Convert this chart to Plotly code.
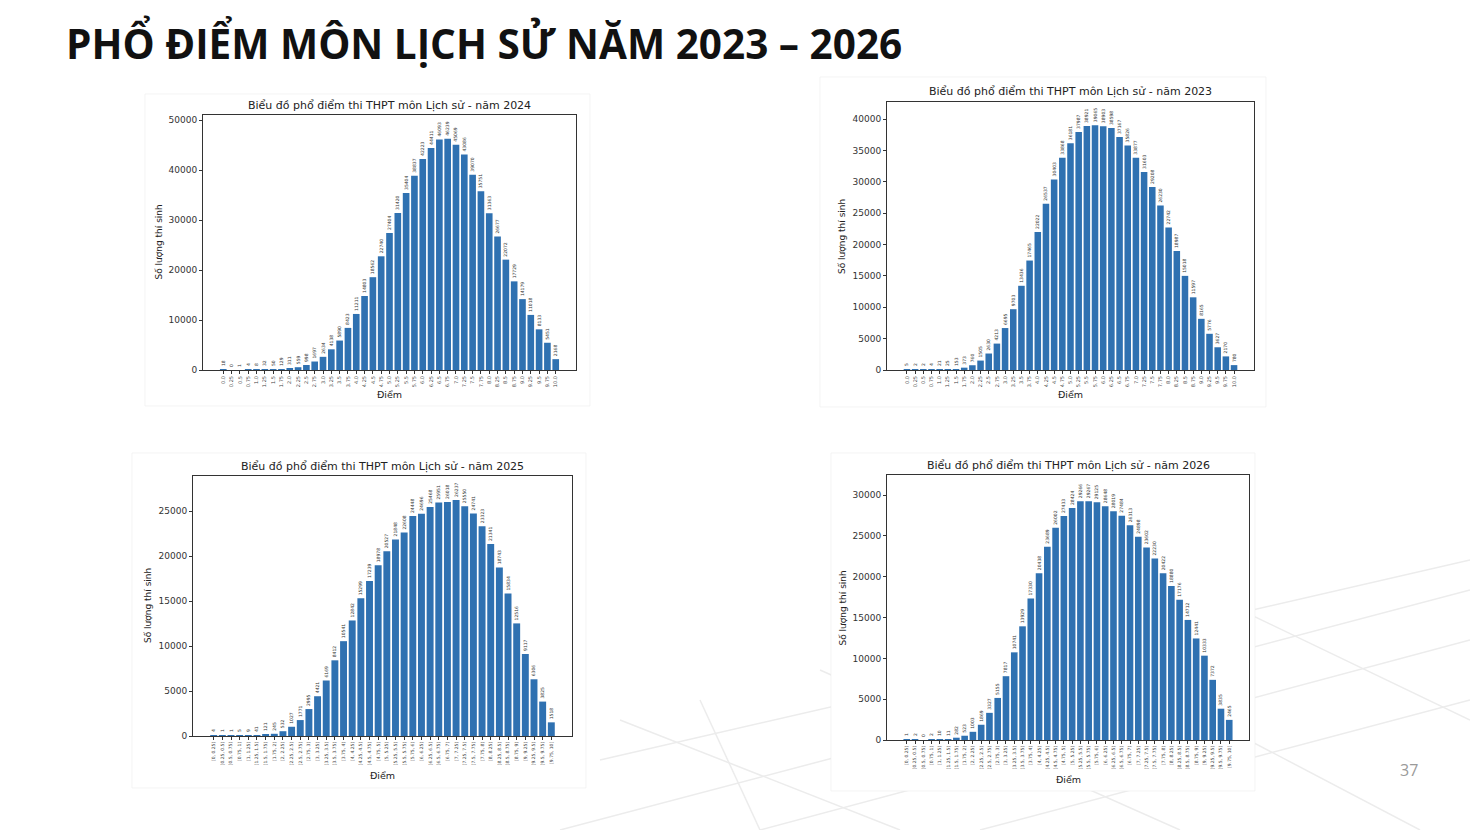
import plotly.graph_objects as go

W, H = 1470, 830

# ---------------- data ----------------
score_labels = ["0.0", "0.25", "0.5", "0.75", "1.0", "1.25", "1.5", "1.75", "2.0", "2.25",
                "2.5", "2.75", "3.0", "3.25", "3.5", "3.75", "4.0", "4.25", "4.5", "4.75",
                "5.0", "5.25", "5.5", "5.75", "6.0", "6.25", "6.5", "6.75", "7.0", "7.25",
                "7.5", "7.75", "8.0", "8.25", "8.5", "8.75", "9.0", "9.25", "9.5", "9.75", "10.0"]

bin_labels = ["[0, 0.25)", "[0.25, 0.5)", "[0.5, 0.75)", "[0.75, 1)", "[1, 1.25)", "[1.25, 1.5)",
              "[1.5, 1.75)", "[1.75, 2)", "[2, 2.25)", "[2.25, 2.5)", "[2.5, 2.75)", "[2.75, 3)",
              "[3, 3.25)", "[3.25, 3.5)", "[3.5, 3.75)", "[3.75, 4)", "[4, 4.25)", "[4.25, 4.5)",
              "[4.5, 4.75)", "[4.75, 5)", "[5, 5.25)", "[5.25, 5.5)", "[5.5, 5.75)", "[5.75, 6)",
              "[6, 6.25)", "[6.25, 6.5)", "[6.5, 6.75)", "[6.75, 7)", "[7, 7.25)", "[7.25, 7.5)",
              "[7.5, 7.75)", "[7.75, 8)", "[8, 8.25)", "[8.25, 8.5)", "[8.5, 8.75)", "[8.75, 9)",
              "[9, 9.25)", "[9.25, 9.5)", "[9.5, 9.75)", "[9.75, 10]"]

counts_2024 = [18, 0, 1, 4, 8, 32, 50, 129, 311, 559, 998, 1697, 2634, 4138, 5890, 8423, 11211,
               14803, 18562, 22740, 27404, 31420, 35404, 38837, 42223, 44411, 46093, 46239, 45069,
               43086, 39070, 35751, 31363, 26677, 22072, 17729, 14179, 11018, 8133, 5451, 2168]

counts_2023 = [5, 2, 2, 4, 21, 25, 153, 373, 760, 1505, 2630, 4213, 6695, 9703, 13436, 17465,
               22022, 26537, 30403, 33868, 36181, 37987, 38921, 39065, 38903, 38598, 37167, 35826,
               33877, 31603, 29208, 26230, 22742, 18987, 15018, 11597, 8165, 5776, 3627, 2170, 780]

counts_2025 = [4, 1, 1, 5, 9, 41, 121, 245, 532, 1027, 1771, 2995, 4421, 6169, 8412, 10541, 12842,
               15299, 17239, 18978, 20527, 21848, 22608, 24448, 24696, 25468, 25951, 26018, 26237,
               25550, 24741, 23323, 21341, 18743, 15834, 12516, 9117, 6306, 3825, 1518]

counts_2026 = [1, 2, 0, 2, 10, 11, 282, 523, 1003, 1869, 3327, 5155, 7817, 10741, 13929, 17330,
               20438, 23689, 26002, 27433, 28424, 29266, 29267, 29125, 28648, 28019, 27484, 26313,
               24898, 23602, 22230, 20422, 18880, 17176, 14712, 12441, 10333, 7372, 3835, 2465]

slide_title = "PHỔ ĐIỂM MÔN LỊCH SỬ NĂM 2023 – 2026"
chart_title = "Biểu đồ phổ điểm thi THPT môn Lịch sử - năm {}"
y_title = "Số lượng thí sinh"
x_title = "Điểm"
page_number = "37"

BAR = "#2f71b1"
MPL_FONT = "DejaVu Sans"


def px(x):
    return x / W


def py(y):
    return 1 - y / H


# panel specs: (year, labels, counts, axes box px [x0,x1,y0,y1], image box px, yrange, ydtick)
panels = [
    (2024, score_labels, counts_2024, (203, 576, 115, 370), (145, 590, 94, 406), 51000, 10000),
    (2023, score_labels, counts_2023, (887, 1254, 102, 370), (820, 1266, 77, 407), 42760, 5000),
    (2025, bin_labels, counts_2025, (193, 572, 476, 736), (132, 586, 453, 788), 28900, 5000),
    (2026, bin_labels, counts_2026, (887, 1249, 475, 740), (831, 1255, 453, 791), 32470, 5000),
]

fig = go.Figure()
shapes = []
annotations = []

# faint decorative perspective floor grid (bottom-right of the slide)
floor_lines = [
    ((560, 830), (1470, 590)), ((760, 830), (1470, 640)), ((980, 830), (1470, 700)),
    ((600, 760), (1470, 560)),
    ((620, 720), (900, 830)), ((820, 670), (1180, 830)), ((1020, 620), (1420, 830)),
    ((1220, 600), (1470, 720)), ((700, 700), (760, 830)),
]
for (a, b) in floor_lines:
    shapes.append(dict(type="line", xref="paper", yref="paper", layer="below",
                       x0=px(a[0]), y0=py(a[1]), x1=px(b[0]), y1=py(b[1]),
                       line=dict(color="#ececec", width=1.5)))

for i, (year, labels, counts, ab, ib, ymax, dt) in enumerate(panels):
    n = i + 1
    xa = "x" if n == 1 else f"x{n}"
    ya = "y" if n == 1 else f"y{n}"
    fig.add_trace(go.Bar(
        x=labels, y=counts, xaxis=xa, yaxis=ya,
        marker=dict(color=BAR, line=dict(width=0)),
        width=0.8,
        text=[str(v) for v in counts],
        textposition="outside", textangle=-90, constraintext="none",
        textfont=dict(family=MPL_FONT, size=4.5, color="#333333"),
        cliponaxis=False, showlegend=False,
    ))
    nb = len(labels)
    pad = (nb - 1 + 0.8) * 0.05 + 0.4
    xkey = "xaxis" if n == 1 else f"xaxis{n}"
    ykey = "yaxis" if n == 1 else f"yaxis{n}"
    fig.layout[xkey] = dict(
        domain=[px(ab[0]), px(ab[1])], anchor=ya, type="category",
        range=[-pad, nb - 1 + pad],
        tickmode="array", tickvals=labels, ticktext=labels, tickangle=-90,
        tickfont=dict(family=MPL_FONT, size=5 if n <= 2 else 4.5, color="#444444"),
        ticks="outside", ticklen=3, tickcolor="#333333", tickwidth=0.8,
        showline=True, linecolor="#333333", linewidth=1, mirror=True,
        showgrid=False, zeroline=False, automargin=False,
    )
    fig.layout[ykey] = dict(
        domain=[py(ab[3]), py(ab[2])], anchor=xa,
        range=[0, ymax], tick0=0, dtick=dt, tickformat="d",
        tickfont=dict(family=MPL_FONT, size=9, color="#333333"),
        ticks="outside", ticklen=3, tickcolor="#333333", tickwidth=0.8,
        showline=True, linecolor="#333333", linewidth=1, mirror=True,
        showgrid=False, zeroline=False, automargin=False,
    )
    # image background
    shapes.append(dict(type="rect", xref="paper", yref="paper", layer="below",
                       x0=px(ib[0]), x1=px(ib[1]), y0=py(ib[3]), y1=py(ib[2]),
                       fillcolor="white", line=dict(width=0.6, color="#ececec")))
    cx = (ab[0] + ab[1]) / 2
    cy = (ab[2] + ab[3]) / 2
    annotations.append(dict(text=chart_title.format(year), x=px(cx), y=py(ab[2] - 10),
                            xref="paper", yref="paper", showarrow=False,
                            xanchor="center", yanchor="middle",
                            font=dict(family=MPL_FONT, size=11, color="#222222")))
    annotations.append(dict(text=y_title, x=px(ab[0] - 45), y=py(cy),
                            xref="paper", yref="paper", showarrow=False, textangle=-90,
                            xanchor="center", yanchor="middle",
                            font=dict(family=MPL_FONT, size=9, color="#222222")))
    annotations.append(dict(text=x_title, x=px(cx), y=py(ab[3] + 25 if n <= 2 else ab[3] + 39),
                            xref="paper", yref="paper", showarrow=False,
                            xanchor="center", yanchor="middle",
                            font=dict(family=MPL_FONT, size=9.5, color="#222222")))

annotations.append(dict(text="<b>" + slide_title + "</b>", x=px(64), y=py(43),
                        xref="paper", yref="paper", showarrow=False,
                        xanchor="left", yanchor="middle",
                        font=dict(family="Open Sans", size=40.5, color="#111111")))
annotations.append(dict(text=page_number, x=px(1409), y=py(770),
                        xref="paper", yref="paper", showarrow=False,
                        xanchor="center", yanchor="middle",
                        font=dict(family="Open Sans", size=16, color="#9a9a9a")))

fig.update_layout(
    width=W, height=H, margin=dict(l=0, r=0, t=0, b=0),
    paper_bgcolor="white", plot_bgcolor="white",
    shapes=shapes, annotations=annotations, bargap=0.2,
)

fig.write_html("out.html", config={"displayModeBar": False})
